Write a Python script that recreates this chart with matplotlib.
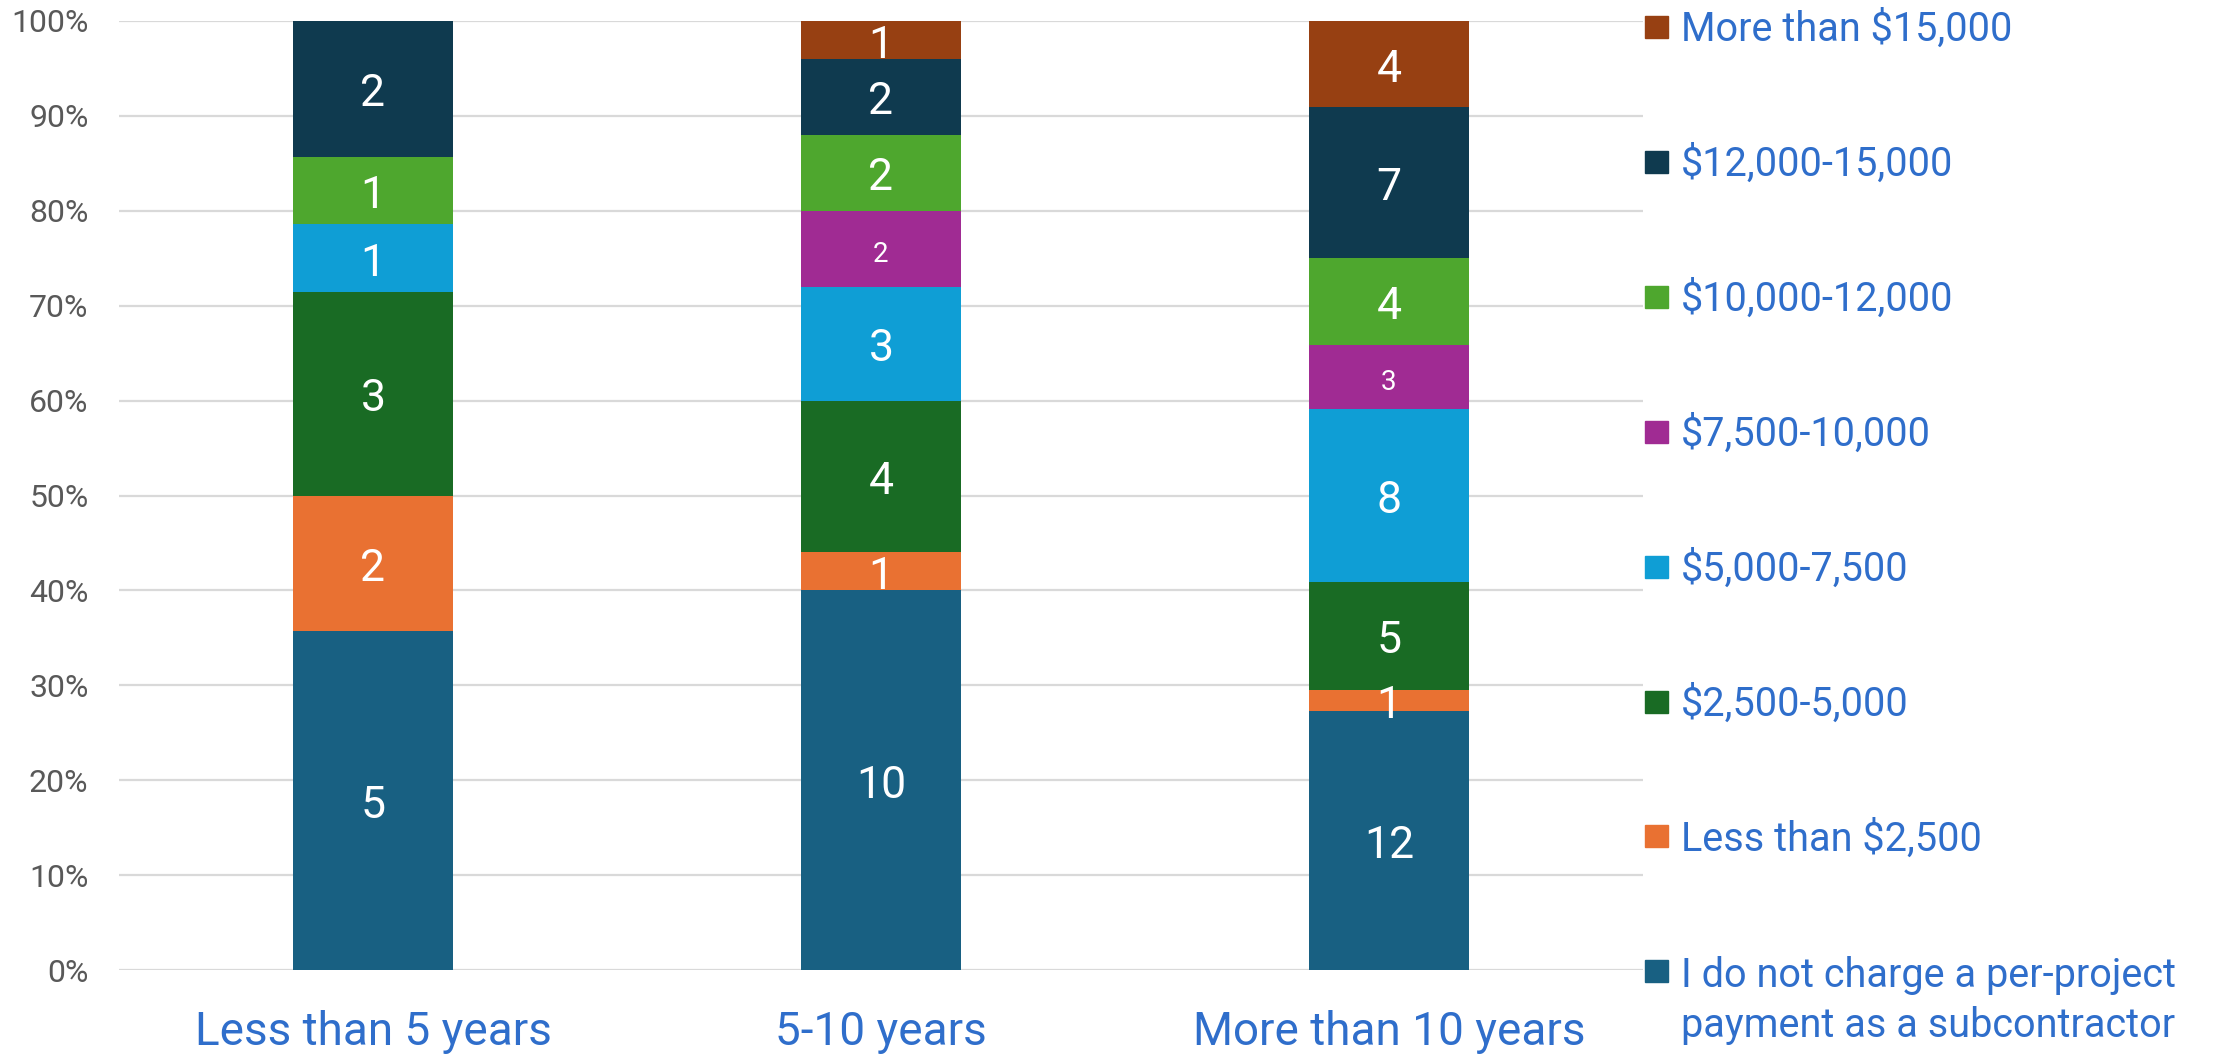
import numpy as np
import matplotlib.pyplot as plt
from matplotlib.patches import Rectangle

plt.rcParams['font.family'] = ['Roboto', 'DejaVu Sans']

# respondents per experience group, by per-project payment band
groups = ['Less than 5 years', '5-10 years', 'More than 10 years']
bands = ['I do not charge a per-project\npayment as a subcontractor',
         'Less than $2,500', '$2,500-5,000', '$5,000-7,500',
         '$7,500-10,000', '$10,000-12,000', '$12,000-15,000',
         'More than $15,000']
counts = np.array([
    [5, 10, 12],   # no per-project payment
    [2, 1, 1],     # < 2,500
    [3, 4, 5],     # 2,500-5,000
    [1, 3, 8],     # 5,000-7,500
    [0, 2, 3],     # 7,500-10,000
    [1, 2, 4],     # 10,000-12,000
    [2, 2, 7],     # 12,000-15,000
    [0, 1, 4],     # > 15,000
])
colors = ['#186082', '#E97132', '#196B24', '#0F9ED5',
          '#A02B93', '#4EA72E', '#0F3A4F', '#974012']

W, H = 2218, 1061
fig = plt.figure(figsize=(W / 100, H / 100), dpi=100)
ax = fig.add_axes([119 / W, (H - 970) / H, 1524 / W, 949 / H])

x = np.arange(len(groups))
share = counts / counts.sum(axis=0)
bottom = np.zeros(len(groups))
for i in range(len(bands)):
    ax.bar(x, share[i], 0.315, bottom=bottom, color=colors[i], zorder=2)
    size = 20 if i == 4 else 32
    for xi, c, b, s in zip(x, counts[i], bottom, share[i]):
        if c == 0:
            continue
        ax.annotate(str(c), (xi, b + s / 2), xytext=(0, -4),
                    textcoords='offset points', ha='center', va='center',
                    color='white', fontsize=size, zorder=3)
    bottom += share[i]

ax.set_xlim(-0.5, 2.5)
ax.set_ylim(0, 1)
ax.set_yticks(np.arange(0, 1.01, 0.1))
ax.set_yticklabels([f'{v}%' for v in range(0, 101, 10)])
ax.set_xticks(x)
ax.set_xticklabels(groups)
ax.grid(axis='y', color='#D9D9D9', linewidth=1.6, zorder=0)
ax.set_axisbelow(True)
for s in ax.spines.values():
    s.set_visible(False)
ax.tick_params(axis='y', length=0, pad=22, labelsize=23, labelcolor='#595959')
ax.tick_params(axis='x', length=0, pad=29, labelsize=33, labelcolor='#2F6ECB')

# legend, top band first
for k, i in enumerate(range(len(bands) - 1, -1, -1)):
    yc = 27 + k * 134.9
    fig.patches.append(Rectangle((1645 / W, 1 - (yc + 11) / H), 23 / W, 22 / H,
                                 transform=fig.transFigure, color=colors[i]))
    nlines = bands[i].count('\n')
    fig.text(1681 / W, 1 - (yc + 14 + 52 * nlines) / H, bands[i],
             fontsize=28.5, color='#2F6ECB', va='baseline', ha='left',
             linespacing=1.37)

fig.savefig('out.png', dpi=100)
